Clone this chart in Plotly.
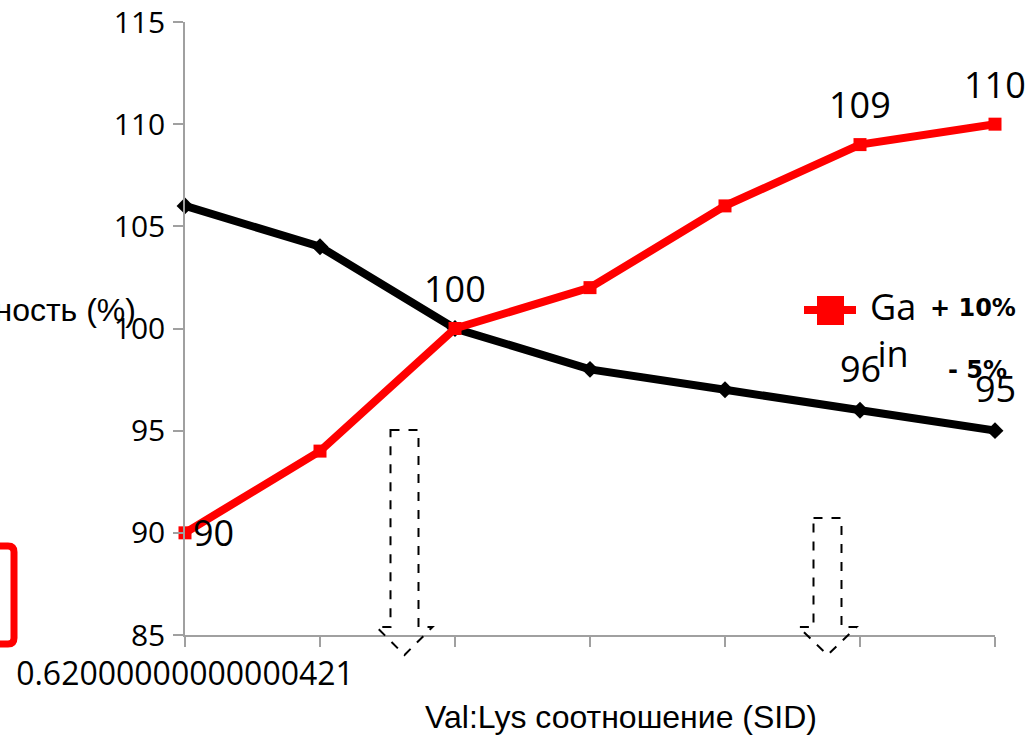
import plotly.graph_objects as go

# Series values along the Val:Lys ratio steps
steps = [0, 1, 2, 3, 4, 5, 6]
tick_text = ["0.62000000000000421", "", "", "", "", "", ""]
gain = [90, 94, 100, 102, 106, 109, 110]
fcr = [106, 104, 100, 98, 97, 96, 95]
gain_labelled = [0, 2, 5, 6]
fcr_labelled = [5, 6]

RED = "#ff0000"
BLACK = "#000000"
AXIS = "#a0a0a0"

# plot-area geometry in pixels
L, R, T, B = 185, 37, 22, 100
W, H = 1032, 735
PW, PH = W - L - R, H - T - B


def px(x):
    return (x - L) / PW


def py(y):
    return (H - B - y) / PH


fig = go.Figure()
fig.add_trace(go.Scatter(
    x=steps, y=fcr, mode="lines+markers", name="FCR",
    line=dict(color=BLACK, width=8),
    marker=dict(symbol="diamond", size=13, color=BLACK),
    cliponaxis=False, showlegend=False,
))
fig.add_trace(go.Scatter(
    x=steps, y=gain, mode="lines+markers", name="Gain",
    line=dict(color=RED, width=8),
    marker=dict(symbol="square", size=13, color=RED),
    cliponaxis=False, showlegend=False,
))

annotations = []
label_font = dict(family="Open Sans", size=36, color=BLACK)
for i in gain_labelled:
    if i == 0:
        annotations.append(dict(x=steps[i], y=gain[i], text=str(gain[i]), showarrow=False,
                                xanchor="left", yanchor="middle", xshift=6, yshift=0,
                                font=label_font))
    else:
        annotations.append(dict(x=steps[i], y=gain[i], text=str(gain[i]), showarrow=False,
                                xanchor="center", yanchor="middle", yshift=40,
                                font=label_font))
for i in fcr_labelled:
    annotations.append(dict(x=steps[i], y=fcr[i], text=str(fcr[i]), showarrow=False,
                            xanchor="center", yanchor="middle", yshift=42,
                            font=label_font))

# axis titles
annotations.append(dict(xref="paper", yref="paper", x=px(621), y=py(717),
                        text="Val:Lys соотношение (SID)", showarrow=False,
                        xanchor="center", yanchor="middle",
                        font=dict(family="Liberation Sans", size=32, color=BLACK)))
annotations.append(dict(xref="paper", yref="paper", x=px(138), y=py(310),
                        text="Продуктивность (%)", showarrow=False,
                        xanchor="right", yanchor="middle",
                        font=dict(family="Liberation Sans", size=32, color=BLACK)))

# legend text and change notes
annotations.append(dict(xref="paper", yref="paper", x=px(893), y=py(280),
                        text="Ga<br>in", showarrow=False, align="center",
                        xanchor="center", yanchor="top",
                        font=dict(family="Open Sans", size=36, color=BLACK)))
annotations.append(dict(xref="paper", yref="paper", x=px(928), y=py(308),
                        text="<b>+ 10%</b>", showarrow=False,
                        xanchor="left", yanchor="middle",
                        font=dict(family="DejaVu Sans", size=24, color=BLACK)))
annotations.append(dict(xref="paper", yref="paper", x=px(946), y=py(370),
                        text="<b>- 5%</b>", showarrow=False,
                        xanchor="left", yanchor="middle",
                        font=dict(family="DejaVu Sans", size=24, color=BLACK)))

shapes = []
# legend swatch
shapes.append(dict(type="line", xref="paper", yref="paper",
                   x0=px(804), x1=px(856), y0=py(310), y1=py(310),
                   line=dict(color=RED, width=8)))
shapes.append(dict(type="rect", xref="paper", yref="paper",
                   x0=px(817), x1=px(844), y0=py(296), y1=py(325),
                   line=dict(width=0), fillcolor=RED))


def block_arrow(cx, top, neck, tip, shaft_half, head_half):
    pts = [(cx - shaft_half, top), (cx + shaft_half, top), (cx + shaft_half, neck),
           (cx + head_half, neck), (cx, tip), (cx - head_half, neck),
           (cx - shaft_half, neck)]
    d = "M" + " L".join(f"{px(x):.5f},{py(y):.5f}" for x, y in pts) + " Z"
    return dict(type="path", xref="paper", yref="paper", path=d,
                line=dict(color=BLACK, width=2, dash="dash"))


shapes.append(block_arrow(404.5, 430, 627, 655, 14, 28))
shapes.append(block_arrow(827.5, 518, 627, 655, 14, 29))

# red rounded frame at the left edge
x0, x1, y0, y1, r = -200, 14, 546, 644, 6
frame = (f"M{px(x0):.5f},{py(y0):.5f} L{px(x1 - r):.5f},{py(y0):.5f} "
         f"Q{px(x1):.5f},{py(y0):.5f} {px(x1):.5f},{py(y0 + r):.5f} "
         f"L{px(x1):.5f},{py(y1 - r):.5f} "
         f"Q{px(x1):.5f},{py(y1):.5f} {px(x1 - r):.5f},{py(y1):.5f} "
         f"L{px(x0):.5f},{py(y1):.5f}")
shapes.append(dict(type="path", xref="paper", yref="paper", path=frame,
                   line=dict(color=RED, width=7)))

fig.update_layout(
    width=W, height=H,
    margin=dict(l=L, r=R, t=T, b=B, autoexpand=False),
    paper_bgcolor="white", plot_bgcolor="white",
    showlegend=False,
    annotations=annotations,
    shapes=shapes,
    xaxis=dict(
        range=[0, 6], tickmode="array", tickvals=steps, ticktext=tick_text,
        showline=True, linecolor=AXIS, linewidth=1.5, automargin=False,
        ticks="outside", ticklen=10, tickwidth=1.5, tickcolor=AXIS,
        showgrid=False, zeroline=False,
        tickfont=dict(family="Open Sans", size=32, color=BLACK),
    ),
    yaxis=dict(
        range=[85, 115], tickmode="array", tickvals=[85, 90, 95, 100, 105, 110, 115],
        showline=True, linecolor=AXIS, linewidth=1.5, automargin=False,
        ticks="outside", ticklen=10, tickwidth=1.5, tickcolor=AXIS,
        showgrid=False, zeroline=False, ticklabelstandoff=2,
        tickfont=dict(family="Open Sans", size=30, color=BLACK),
    ),
)

fig.write_html("out.html")
